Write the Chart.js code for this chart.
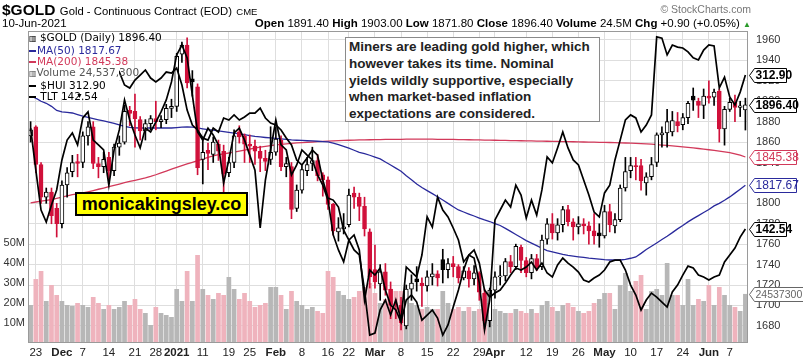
<!DOCTYPE html>
<html><head><meta charset="utf-8">
<script src="https://cdn.jsdelivr.net/npm/chart.js@4.4.0/dist/chart.umd.min.js"></script>
<style>
html,body{margin:0;padding:0;background:#fff;}
#wrap{position:relative;width:803px;height:359px;overflow:hidden;font-family:"Liberation Sans",Arial,sans-serif;color:#000;}
#c{position:absolute;left:0;top:0;}
.abs{position:absolute;white-space:nowrap;}
#legend{position:absolute;left:29px;top:32px;width:90px;height:66px;background:#fff;font-family:"DejaVu Sans",Verdana,sans-serif;font-size:10.5px;line-height:10.9px;}
#legend div{white-space:nowrap;}
.ln{display:inline-block;width:7px;height:2px;vertical-align:middle;margin-right:1px;}
#note{position:absolute;left:345px;top:37px;width:250px;height:82px;border:1px solid #8a8a8a;background:#fff;font-weight:bold;font-size:13.5px;line-height:16.8px;color:#222;padding:1px 0 0 3px;}
#brand{position:absolute;left:75px;top:192px;width:169px;height:20px;border:2px solid #000;background:#ffff00;font-weight:bold;font-size:18px;line-height:20px;text-align:center;}
</style></head><body>
<div id="wrap">
<canvas id="c" width="803" height="359"></canvas>
<div class="abs" style="left:2px;top:1px;"><b style="font-size:15.5px;">$GOLD</b> <span style="font-size:11.3px;">Gold - Continuous Contract (EOD)</span> <span style="font-size:9.5px;">CME</span></div>
<div class="abs" style="left:2px;top:17px;font-size:11.5px;">10-Jun-2021</div>
<div class="abs" style="right:52px;top:3px;font-size:10.5px;color:#777;">© StockCharts.com</div>
<div class="abs" id="ohlc" style="right:52px;top:17px;font-size:11.5px;"></div>
<div id="legend"></div>
<div class="abs" style="left:76px;top:92px;font-size:7px;">▼</div>
<div id="note">Miners are leading gold higher, which<br>however takes its time. Nominal<br>yields wildly supportive, especially<br>when market-based inflation<br>expectations are considered.</div>
<div id="brand">monicakingsley.co</div>
</div>
<script>
// ---------- DATA ----------
const dates = [
'2020-11-20','2020-11-23','2020-11-24','2020-11-25','2020-11-27','2020-11-30',
'2020-12-01','2020-12-02','2020-12-03','2020-12-04','2020-12-07','2020-12-08','2020-12-09','2020-12-10','2020-12-11',
'2020-12-14','2020-12-15','2020-12-16','2020-12-17','2020-12-18','2020-12-21','2020-12-22','2020-12-23','2020-12-24',
'2020-12-28','2020-12-29','2020-12-30','2020-12-31',
'2021-01-04','2021-01-05','2021-01-06','2021-01-07','2021-01-08','2021-01-11','2021-01-12','2021-01-13','2021-01-14','2021-01-15',
'2021-01-19','2021-01-20','2021-01-21','2021-01-22','2021-01-25','2021-01-26','2021-01-27','2021-01-28','2021-01-29',
'2021-02-01','2021-02-02','2021-02-03','2021-02-04','2021-02-05','2021-02-08','2021-02-09','2021-02-10','2021-02-11','2021-02-12',
'2021-02-16','2021-02-17','2021-02-18','2021-02-19','2021-02-22','2021-02-23','2021-02-24','2021-02-25','2021-02-26',
'2021-03-01','2021-03-02','2021-03-03','2021-03-04','2021-03-05','2021-03-08','2021-03-09','2021-03-10','2021-03-11','2021-03-12',
'2021-03-15','2021-03-16','2021-03-17','2021-03-18','2021-03-19','2021-03-22','2021-03-23','2021-03-24','2021-03-25','2021-03-26',
'2021-03-29','2021-03-30','2021-03-31',
'2021-04-01','2021-04-05','2021-04-06','2021-04-07','2021-04-08','2021-04-09','2021-04-12','2021-04-13','2021-04-14','2021-04-15','2021-04-16',
'2021-04-19','2021-04-20','2021-04-21','2021-04-22','2021-04-23','2021-04-26','2021-04-27','2021-04-28','2021-04-29','2021-04-30',
'2021-05-03','2021-05-04','2021-05-05','2021-05-06','2021-05-07','2021-05-10','2021-05-11','2021-05-12','2021-05-13','2021-05-14',
'2021-05-17','2021-05-18','2021-05-19','2021-05-20','2021-05-21','2021-05-24','2021-05-25','2021-05-26','2021-05-27','2021-05-28',
'2021-06-01','2021-06-02','2021-06-03','2021-06-04','2021-06-07','2021-06-08','2021-06-09','2021-06-10'];

const prevCloseBeforeFirst = 1861;

const openP = [1866,1875,1838,1806,1811,1795, 1780,1818,1831,1841, 1840,1866,1875,1839,1836, 1845,1832,1855,1860,1891, 1890,1882,1871,1878, 1883,1880,1882,1893,
1895,1946,1955,1922,1914, 1843,1852,1848,1858,1851, 1830,1840,1870,1866, 1858,1856,1851,1844,1843,
1850,1862,1836,1836,1795, 1813,1832,1839,1842,1828, 1823,1799,1772,1775, 1779,1810,1806,1797,1772,
1735,1721,1733,1716,1697, 1700,1680,1716,1726,1722, 1719,1728,1731,1745,1735, 1741,1738,1727,1734,1726, 1732,1712,1685,
1715, 1728,1729,1743,1738,1757, 1744,1732,1746,1738,1765, 1780,1771,1779,1794,1782, 1777,1780,1778,1773,1771,
1768,1792,1778,1784,1815, 1832,1837,1837,1820,1826, 1840,1867,1869,1870,1880, 1877,1884,1905,1900,1896,
1905,1904,1910,1873, 1892,1899,1894,1891.4];

const highP = [1880,1876,1840,1815,1815,1800, 1822,1835,1847,1848, 1870,1880,1880,1845,1850, 1850,1858,1866,1896,1895, 1907,1885,1882,1886, 1900,1886,1897,1902,
1947,1958,1962,1930,1917, 1865,1859,1865,1862,1857, 1845,1872,1876,1868, 1867,1862,1856,1852,1875,
1875,1866,1845,1840,1818, 1837,1845,1855,1848,1830, 1826,1800,1786,1790, 1814,1816,1810,1806,1775,
1759,1740,1741,1723,1706, 1708,1720,1730,1738,1727, 1734,1741,1734,1755,1746, 1748,1740,1738,1737,1739, 1733,1716,1717,
1733, 1739,1746,1749,1760,1759, 1747,1750,1750,1769,1785, 1790,1785,1797,1798,1785, 1787,1785,1782,1790,1780,
1798,1799,1790,1818,1845, 1845,1845,1843,1830,1845, 1869,1875,1892,1890,1889, 1888,1900,1913,1903,1912,
1920,1912,1912,1895, 1903,1906,1900,1903];

const lowP = [1860,1830,1800,1800,1780,1767, 1776,1806,1826,1826, 1835,1857,1834,1825,1830, 1823,1827,1847,1858,1876, 1855,1862,1862,1872, 1872,1874,1878,1884,
1890,1938,1913,1905,1828, 1819,1833,1840,1842,1804, 1826,1835,1859,1840, 1840,1838,1831,1832,1838,
1847,1832,1826,1785,1792, 1810,1827,1832,1822,1807, 1794,1769,1763,1770, 1777,1795,1783,1768,1717,
1717,1705,1710,1687,1687, 1676,1677,1705,1714,1699, 1714,1720,1719,1722,1727, 1728,1722,1725,1718,1720, 1705,1677,1679,
1707, 1720,1724,1732,1735,1732, 1728,1726,1734,1735,1760, 1765,1764,1772,1778,1764, 1770,1770,1760,1760,1757,
1766,1772,1771,1782,1812, 1825,1823,1813,1808,1823, 1836,1855,1855,1866,1870, 1872,1878,1891,1884,1883,
1898,1896,1860,1857, 1890,1880,1885,1871.8];

const closeP = [1872,1838,1806,1811,1788,1780, 1818,1830,1840,1839, 1866,1875,1839,1836,1843, 1832,1855,1859,1890,1888, 1883,1871,1878,1883, 1880,1882,1893,1895,
1944,1955,1918,1919,1835, 1850,1849,1860,1851,1829, 1840,1866,1865,1858, 1856,1851,1844,1841,1850,
1863,1836,1839,1794,1813, 1833,1838,1842,1827,1823, 1799,1773,1776,1777, 1808,1806,1797,1775,1728,
1723,1733,1715,1700,1698, 1683,1716,1722,1723,1719, 1728,1731,1727,1735,1741, 1738,1727,1734,1726,1732, 1713,1685,1715,
1728, 1729,1743,1738,1758,1744, 1732,1746,1737,1764,1780, 1771,1779,1794,1782,1777, 1780,1778,1773,1768,1768,
1792,1779,1784,1815,1831, 1837,1836,1822,1826,1838, 1867,1869,1880,1881,1876, 1884,1898,1901,1896,1905,
1903,1909,1873,1892, 1899,1894,1895.5,1896.4];

const volumeM = [19,32,36,21,29,24, 21,19,18.5,20, 19,18,23,20,17, 19,17,18,21,19, 22,17,15,9, 18,15,14,13,
27,21,36,21,44, 27,24,22,25,24, 33,27,22,25, 21,18,19,20,28,
28,24,17,26,21, 19,17,18,16,15, 36,33,26,24, 22,23,26,28,30,
25,20,22,27,26, 26,26,20,19,17, 18,17,17,26,20, 17,18,16,18,16, 17,22,20,
17, 16,15,15,17,16, 15,17,15,19,21, 18,16,19,20,18, 16,15,16,20,22,
25,25,17,29,35, 26,31,34,17,26, 27,24,40,24,24, 19,32,19,22,21,
29,19,28,24, 19,18,16,24.5373];

const ma50 = [1905,1903,1900,1898,1895,1891, 1889.5,1889,1888.5,1887, 1885.5,1884.2,1883,1881.8,1880.7, 1879.5,1878.4,1876.8,1875.3,1874.5, 1874,1873.8,1873.8,1873.8, 1873.8,1873.8,1873.8,1873.8,
1874.2,1874.6,1874.8,1874.6,1873.9, 1873,1872.2,1871.7,1871,1870.2, 1869.4,1868.7,1868,1867.2, 1866.4,1865.6,1865,1864.5,1864.1,
1863.6,1863.1,1862.6,1862.1,1861.8, 1861.6,1861.3,1861.1,1860.8,1860.5, 1860.2,1859,1857.5,1855.8, 1854,1852,1850,1848.6,1847.1,
1845.3,1843.5,1840.5,1837.5,1834.5, 1831.5,1827,1823,1819,1815.5, 1812.5,1809.5,1806.5,1803.2,1800, 1796.7,1793.5,1791.5,1789.5,1787.6, 1785.6,1783.7,1782.2,
1780.2, 1778.3,1775.5,1772.5,1769.5,1766.5, 1763.5,1761,1758.5,1756,1753.6, 1752.4,1751.2,1750,1749,1748.3, 1747.6,1747,1746.3,1745.8,1745.3,
1744.8,1744.5,1744.5,1744.5,1745.2, 1746.2,1747.5,1751,1754.8,1758, 1761.2,1764.5,1767.8,1771.3,1775, 1778.3,1781.8,1785,1788,1791,
1794,1797.5,1800,1803, 1806.3,1810,1813.8,1817.67];

const ma200 = [1800.5,1801.3,1802.1,1802.9,1803.6,1804.8, 1806,1807.3,1808.5,1809.3, 1810.2,1811.3,1812.5,1813.8,1815, 1816.3,1817.6,1818.9,1820.2,1821.4, 1822.6,1823.8,1825,1826.4, 1828,1829.8,1831.6,1833.4,
1835.2,1837,1838.6,1840.2,1841.8, 1843.4,1845,1846.5,1847.6,1848.5, 1849.3,1850.2,1851.2,1852.2, 1853.2,1854.2,1855,1855.8,1856.5,
1857.2,1857.8,1858.3,1858.8,1859.2, 1859.5,1859.8,1860.1,1860.4,1860.7, 1861,1861.2,1861.4,1861.6, 1861.8,1862,1862.1,1862.2,1862.3,
1862.4,1862.5,1862.6,1862.6,1862.7, 1862.7,1862.8,1862.8,1862.8,1862.8, 1862.8,1862.8,1862.7,1862.7,1862.6, 1862.6,1862.5,1862.4,1862.3,1862.2, 1862.1,1862,1861.9,
1861.8, 1861.7,1861.6,1861.5,1861.4,1861.3, 1861.2,1861.1,1861,1860.9,1860.8, 1860.7,1860.6,1860.5,1860.4,1860.3, 1860.2,1860.1,1860,1859.9,1859.8,
1859.7,1859.6,1859.5,1859.3,1859.1, 1858.9,1858.7,1858.5,1858.2,1857.9, 1857.5,1857.1,1856.7,1856.3,1855.8, 1855.3,1854.8,1854.3,1853.7,1853.1,
1852.5,1851.9,1851.2,1850.5, 1849.6,1848.5,1847.2,1845.38];

const hui = [295.2,281.2,267.9,263.9,269.6,274.6, 284.6,291.2,293.6,289.6, 298.6,300.6,291.2,289.6,287.9, 276.2,287.9,294.6,304.6,297.9, 292.9,288.6,295.2,293.9, 297.2,300.6,304.6,310.6,
319.6,322.9,318.6,306.2,293.9, 291.2,295.2,292.9,289.6,276.9, 284.6,293.6,295.2,291.2, 286.2,281.2,261.9,277.9,287.9,
297.9,289.6,287.9,279.6,282.9, 287.9,286.2,284.6,279.6,276.2, 271.2,259.6,254.6,250.6, 257.9,254.6,252.9,241.2,226.2,
226.9,234.6,237.9,232.9,237.9, 231.2,248.9,247.2,245.6,252.9, 265.6,262.2,272.2,267.9,265.6, 261.9,257.9,250.6,252.9,251.9, 243.6,227.9,237.9,
264.6, 267.9,271.2,268.9,276.2,272.9, 265.2,271.2,266.2,274.6,285.6, 283.6,288.6,293.9,288.6,284.6, 282.9,277.9,272.9,267.2,265.6,
273.6,276.2,284.6,291.2,297.9, 299.6,298.6,293.9,296.2,299.6, 325.6,325.2,319.6,322.9,322.2, 321.9,320.6,318.6,317.9,321.2,
322.9,322.6,308.6,312.2, 305.6,302.9,307.2,312.9];

const tlt = [157.45,157.87,156.62,156.79,157.45,157.87, 157.04,155.79,155.37,154.54, 154.95,155.79,155.37,156.20,157.04, 156.62,156.20,155.62,154.54,154.29, 154.95,155.37,155.79,155.12, 154.79,155.12,155.62,155.54,
155.95,154.54,152.45,151.20,150.79, 150.12,149.95,150.95,150.62,151.79, 151.62,152.04,151.62,151.87, 152.20,152.20,152.62,151.79,151.37,
151.20,150.79,150.12,149.54,148.29, 147.87,148.45,149.12,148.70,146.62, 145.12,144.95,144.37,142.45, 141.62,142.04,140.79,136.62,139.12,
138.70,139.29,137.45,136.20,135.79, 134.79,136.62,137.04,136.45,134.95, 135.37,135.79,135.12,133.70,134.54, 136.04,137.45,139.12,140.37,140.79, 139.70,137.45,136.87,
137.20, 137.45,138.04,138.70,139.29,139.12, 139.37,139.79,139.12,139.70,138.87, 138.54,139.54,140.12,139.70,139.37, 138.95,138.29,138.12,138.45,138.70,
139.12,139.79,139.95,139.95,139.12, 137.87,137.04,135.79,136.62,137.20, 136.87,136.45,136.04,137.29,137.87, 138.70,139.45,139.29,138.70,138.54,
138.29,138.54,138.70,139.79, 140.37,140.95,141.87,142.54];

const tickDates = ['2020-11-23','2020-12-01','2020-12-07','2020-12-14','2020-12-21','2020-12-28','2021-01-04','2021-01-11','2021-01-19','2021-01-25',
'2021-02-01','2021-02-08','2021-02-16','2021-02-22','2021-03-01','2021-03-08','2021-03-15','2021-03-22','2021-03-29','2021-04-01',
'2021-04-12','2021-04-19','2021-04-26','2021-05-03','2021-05-10','2021-05-17','2021-05-24','2021-06-01','2021-06-07'];
const tickTexts = ['23','Dec','7','14','21','28','2021','11','19','25','Feb','8','16','22','Mar','8','15','22','29','Apr','12','19','26','May','10','17','24','Jun','7'];
const boldTickTexts = ['Dec','2021','Feb','Mar','Apr','May','Jun'];
const priceTicks = [1680,1700,1720,1740,1760,1780,1800,1820,1840,1860,1880,1900,1920,1940,1960];
const volumeTicks = [10,20,30,40,50];

const header = {open:'1891.40', high:'1903.00', low:'1871.80', close:'1896.40', volume:'24.5M', chg:'+0.90 (+0.05%)'};
const legendValues = {gold:'1896.40', ma50:'1817.67', ma200:'1845.38', volume:'24,537,300', hui:'312.90', tlt:'142.54', volRaw:'24537300'};

// ---------- BUILD ----------
const FONT = '"Liberation Sans", Arial, sans-serif';
const RED = '#d0103a', BLK = '#000000', BLUE = '#2a2a9c', MARED = '#d2395a';
const N = dates.length;
const tickMap = {}; tickDates.forEach((d,i)=>{ tickMap[d] = tickTexts[i]; });

const lineCol = [], fillCol = [], volCol = [];
for (let i=0;i<N;i++){
  const pc = i===0 ? prevCloseBeforeFirst : closeP[i-1];
  const up = closeP[i] >= pc;
  lineCol.push(up ? BLK : RED);
  fillCol.push(closeP[i] < openP[i] ? (up ? BLK : RED) : '#ffffff');
  volCol.push(up ? '#b7b7b7' : '#efb3bd');
}

document.getElementById('ohlc').innerHTML =
 '<b>Open</b> '+header.open+' <b>High</b> '+header.high+' <b>Low</b> '+header.low+' <b>Close</b> '+header.close+
 ' <b>Volume</b> '+header.volume+' <b>Chg</b> '+header.chg+' <span style="color:#2a9a2a;font-size:8px;">▲</span>';

document.getElementById('legend').innerHTML =
 '<div><span style="font-size:8px">▥</span> $GOLD (Daily) '+legendValues.gold+'</div>'+
 '<div style="color:'+BLUE+'"><span class="ln" style="background:'+BLUE+'"></span>MA(50) '+legendValues.ma50+'</div>'+
 '<div style="color:'+MARED+'"><span class="ln" style="background:'+MARED+'"></span>MA(200) '+legendValues.ma200+'</div>'+
 '<div style="color:#555"><span style="font-size:8px">▥</span>Volume '+legendValues.volume+'</div>'+
 '<div><span class="ln" style="background:#000"></span> $HUI '+legendValues.hui+'</div>'+
 '<div><span class="ln" style="background:#000"></span> TLT '+legendValues.tlt+'</div>';

const tags = [
  {axis:'hui', value:hui[N-1], text:legendValues.hui, color:'#000', bold:true, w:37},
  {axis:'y', value:closeP[N-1], text:legendValues.gold, color:'#000', bold:true, w:47},
  {axis:'y', value:ma200[N-1], text:legendValues.ma200, color:MARED, bold:false, w:47},
  {axis:'y', value:ma50[N-1], text:legendValues.ma50, color:BLUE, bold:false, w:47},
  {axis:'tlt', value:tlt[N-1], text:legendValues.tlt, color:'#000', bold:true, w:37},
  {axis:'vol', value:volumeM[N-1], text:legendValues.volRaw, color:'#666', bold:false, w:60, size:10.5}
];

const framePlugin = {
  id:'frame',
  beforeDraw(chart){ const c=chart.ctx; c.save(); c.fillStyle='#fff'; c.fillRect(0,0,chart.width,chart.height); c.restore(); },
  afterDraw(chart){
    const c = chart.ctx, a = chart.chartArea;
    c.save();
    c.strokeStyle = '#9a9a9a'; c.lineWidth = 1;
    c.strokeRect(Math.round(a.left)+0.5, Math.round(a.top)+0.5, Math.round(a.right-a.left)-1, Math.round(a.bottom-a.top)-1);
    tags.forEach(t=>{
      const y = Math.round(chart.scales[t.axis].getPixelForValue(t.value)) + 0.5;
      const x0 = 749.5, h = 14;
      c.beginPath();
      c.moveTo(x0, y); c.lineTo(x0+5, y-h/2); c.lineTo(x0+t.w, y-h/2); c.lineTo(x0+t.w, y+h/2); c.lineTo(x0+5, y+h/2); c.closePath();
      c.fillStyle = '#fff'; c.fill();
      c.strokeStyle = t.color; c.lineWidth = 1; c.stroke();
      c.fillStyle = t.color;
      c.font = (t.bold ? 'bold ' : '') + (t.size || 12) + 'px ' + FONT;
      c.textBaseline = 'middle'; c.textAlign = 'left';
      c.fillText(t.text, x0+6, y+0.5);
    });
    c.restore();
  }
};

new Chart(document.getElementById('c'), {
  data: {
    labels: dates,
    datasets: [
      {type:'line', label:'HUI', data:hui, yAxisID:'hui', borderColor:'#000', borderWidth:1.7, pointRadius:0, tension:0, order:1},
      {type:'line', label:'TLT', data:tlt, yAxisID:'tlt', borderColor:'#000', borderWidth:1.7, pointRadius:0, tension:0, order:1},
      {type:'bar', label:'body', data:openP.map((o,i)=>[o, closeP[i]]), yAxisID:'y', backgroundColor:fillCol, borderColor:lineCol,
        borderWidth:1, borderSkipped:false, barThickness:4, minBarLength:1, grouped:false, order:3},
      {type:'bar', label:'wick', data:lowP.map((l,i)=>[l, highP[i]]), yAxisID:'y', backgroundColor:lineCol,
        barThickness:1, grouped:false, order:4},
      {type:'line', label:'MA50', data:ma50, yAxisID:'y', borderColor:BLUE, borderWidth:1.3, pointRadius:0, tension:0, order:6},
      {type:'line', label:'MA200', data:ma200, yAxisID:'y', borderColor:MARED, borderWidth:1.3, pointRadius:0, tension:0, order:6},
      {type:'bar', label:'Volume', data:volumeM, yAxisID:'vol', backgroundColor:volCol, barPercentage:0.9, categoryPercentage:1, grouped:false, order:10}
    ]
  },
  options: {
    responsive:false, animation:false, devicePixelRatio:1,
    layout:{padding:{top:31, left:0, right:0, bottom:0}},
    plugins:{legend:{display:false}, tooltip:{enabled:false}, title:{display:false}},
    scales:{
      x:{type:'category', offset:true,
         grid:{offset:false, color:'#dedede', drawTicks:false},
         border:{display:false},
         afterBuildTicks:(ax)=>{ ax.ticks = ax.ticks.filter(t => tickMap[dates[t.value]] !== undefined); },
         afterFit:(ax)=>{ ax.height = 16; },
         ticks:{autoSkip:false, maxRotation:0, minRotation:0, padding:3, color:'#222',
           callback:(v)=> tickMap[dates[v]],
           font:(ctx)=>({family:FONT, size:11.5, weight: (ctx.tick && boldTickTexts.includes(ctx.tick.label)) ? 'bold' : 'normal'})}
      },
      y:{position:'right', min:1663.2, max:1968.8,
         afterBuildTicks:(ax)=>{ ax.ticks = priceTicks.map(v=>({value:v})); },
         afterFit:(ax)=>{ ax.width = 55; },
         grid:{color:'#dedede', drawTicks:false}, border:{display:false},
         ticks:{padding:8, color:'#333', font:{family:FONT, size:11}, callback:(v)=> String(v)}
      },
      vol:{position:'left', min:0, max:156,
         afterBuildTicks:(ax)=>{ ax.ticks = volumeTicks.map(v=>({value:v})); },
         afterFit:(ax)=>{ ax.width = 28; },
         grid:{display:false, drawTicks:false}, border:{display:false},
         ticks:{padding:3, color:'#333', font:{family:FONT, size:11}, callback:(v)=> v+'M'}
      },
      hui:{display:false, min:223.57, max:327.57},
      tlt:{display:false, min:133.04, max:159.04}
    }
  },
  plugins:[framePlugin]
});
</script>
</body></html>
